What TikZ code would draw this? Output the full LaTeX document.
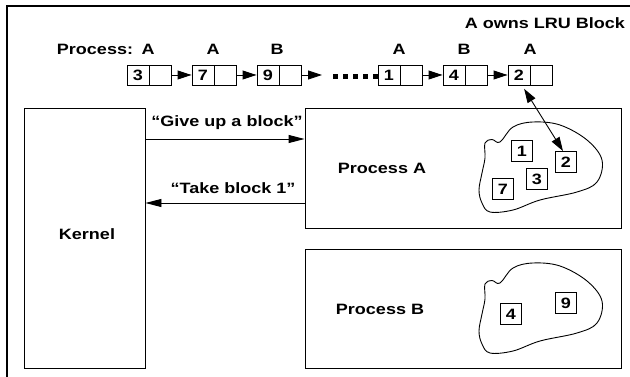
\documentclass[tikz,border=0pt]{standalone}
\usepackage{fontspec}
\setmainfont{Liberation Sans}[FakeStretch=1.2]
\usetikzlibrary{arrows.meta,positioning}
\begin{document}
\begin{tikzpicture}[x=1pt,y=-1pt,
  every node/.style={font=\fontsize{15}{17}\selectfont\bfseries, inner sep=0pt},
  frame/.style={line width=2pt},
  panel/.style={draw, line width=0.9pt},
  cell/.style={draw, line width=0.9pt, minimum width=22pt, minimum height=20pt, inner sep=0pt},
  chip/.style={draw, line width=0.9pt, minimum size=21pt, inner sep=0pt},
  link/.style={-{Triangle[length=14pt,width=9pt]}, line width=0.9pt},
  msg/.style={-{Triangle[length=16pt,width=8pt]}, line width=0.9pt},
  dblarrow/.style={{Triangle[length=14pt,width=9pt]}-{Triangle[length=14pt,width=9pt]}, line width=0.9pt},
  dots/.style={line width=5pt, dash pattern=on 5pt off 5pt},
  blob/.style={line width=0.9pt},
]
\useasboundingbox (0,0) rectangle (630,377);

% outer frame (left and top edges)
\draw[frame] (7,377) -- (7,6.5) -- (630,6.5);

% heading
\node[anchor=east] (owner) at (625,23) {A owns LRU Block};
\node (proclbl) at (95,49) {Process:};

% LRU list: number cell + pointer cell
\node[cell] (n3) at (138,75) {3};
\node[cell, right=0pt of n3] (e3) {};
\node[cell] (n7) at (203,75) {7};
\node[cell, right=0pt of n7] (e7) {};
\node[cell] (n9) at (268,75) {9};
\node[cell, right=0pt of n9] (e9) {};
\node[cell] (n1) at (389,75) {1};
\node[cell, right=0pt of n1] (e1) {};
\node[cell] (n4) at (454,75) {4};
\node[cell, right=0pt of n4] (e4) {};
\node[cell] (n2) at (519,75) {2};
\node[cell, right=0pt of n2] (e2) {};

% owners above each list entry
\node (o3) at (148,49) {A};
\node (o7) at (213,49) {A};
\node (o9) at (277,49) {B};
\node (o1) at (399,49) {A};
\node (o4) at (464,49) {B};
\node (o2) at (530,49) {A};

% list links
\draw[link] (e3.east) -- (n7.west);
\draw[link] (e7.east) -- (n9.west);
\coordinate (gap) at (322,75);
\draw[link] (e9.east) -- (gap);
\coordinate (d0) at (333,77);
\draw[dots] (d0) -- (n1.west |- d0);
\draw[link] (e1.east) -- (n4.west);
\draw[link] (e4.east) -- (n2.west);

% kernel and processes
\node[panel, minimum width=121pt, minimum height=260pt] (kernel) at (84.5,238) {};
\node (kernellbl) at (87,234) {Kernel};
\node[panel, minimum width=316pt, minimum height=120pt] (procA) at (463,168) {};
\node (procAlbl) at (382,168) {Process A};
\node[panel, minimum width=316pt, minimum height=119pt] (procB) at (463,308.5) {};
\node (procBlbl) at (380,309) {Process B};

% messages between kernel and process A
\draw[msg] (kernel.east |- 0,139) -- (procA.west |- 0,139);
\node (give) at (227,123) {“Give up a block”};
\draw[msg] (procA.west |- 0,203) -- (kernel.east |- 0,203);
\node (take) at (233,188) {“Take block 1”};

% memory regions of the processes
\foreach \dy in {0,141} {
  \begin{scope}[shift={(0,\dy)}]
    \draw[blob] plot[smooth cycle, tension=0.6] coordinates {
      (485,143) (492,139.5) (500,142) (513,127) (533,122) (560,125)
      (587,140) (602,160) (597,182) (577,192) (540,200) (513,210)
      (490,212) (482,203) (479,190) (482,173) (485,158)};
  \end{scope}
}

% blocks held by process A
\node[chip] (s1) at (522,151) {1};
\node[chip] (s2) at (566,162) {2};
\node[chip] (s3) at (537,179) {3};
\node[chip] (s7) at (503,189) {7};

% blocks held by process B
\node[chip] (s4) at (511,314) {4};
\node[chip] (s9) at (566,303) {9};

% LRU entry refers to block 2 of process A
\draw[dblarrow, shorten <=4pt] ([xshift=3pt]n2.south) -- ([xshift=-3pt]s2.north);
\end{tikzpicture}
\end{document}
